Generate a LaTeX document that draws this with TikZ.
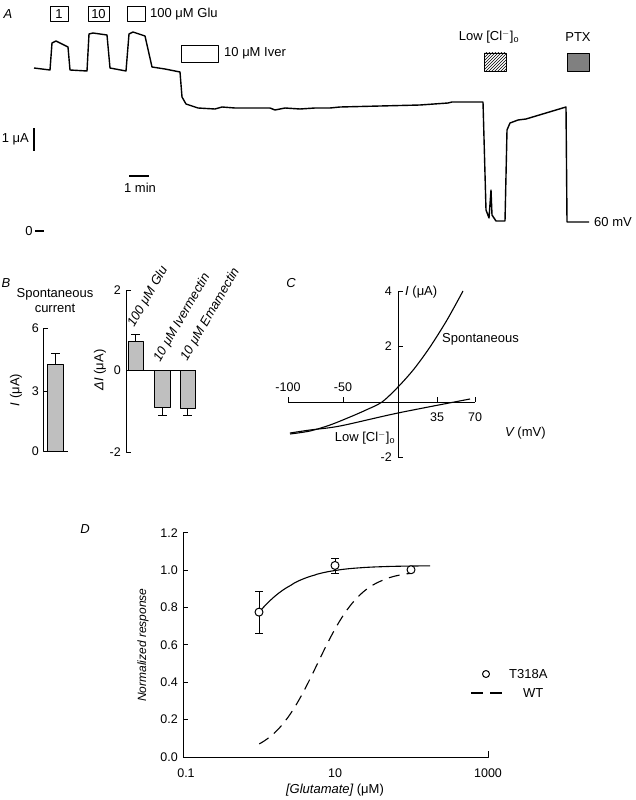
\documentclass[tikz,border=0pt]{standalone}
\usepackage{fontspec}
\setmainfont{Liberation Sans}
\usetikzlibrary{patterns}
\begin{document}
\begin{tikzpicture}[x=1pt,y=-1pt,line join=round,
  every node/.style={font=\fontsize{13}{15}\selectfont,inner sep=0pt},
  trace/.style={line width=1.4pt},
  ax/.style={line width=1pt},
  bar/.style={draw,line width=0.9pt,fill=black!25},
  lab/.style={font=\fontsize{13}{15}\selectfont\itshape},
  tick/.style={font=\fontsize{12.5}{14}\selectfont}]
\useasboundingbox (0,0) rectangle (635,800);
% ---------- Panel A ----------
\node[lab] (pA) at (8,14) {A};
\node[draw,line width=0.9pt,minimum width=18pt,minimum height=15pt] (b1) at (59,14) {1};
\node[draw,line width=0.9pt,minimum width=21pt,minimum height=15pt] (b10) at (98.5,14) {10};
\node[draw,line width=0.9pt,minimum width=18pt,minimum height=15pt] (b100) at (136,14) {};
\node[anchor=west] (l100) at (150,14) {100 μM Glu};
\node[draw,line width=0.9pt,minimum width=37pt,minimum height=17pt] (biv) at (199.5,53.5) {};
\node[anchor=west] (liv) at (224,53) {10 μM Iver};
\node (lcl) at (489,37) {Low [Cl$^{-}$]$_{\mathrm o}$};
\node[draw,line width=0.9pt,pattern=north east lines,minimum width=22pt,minimum height=18pt] (bcl) at (495,62) {};
\node (lptx) at (578,37) {PTX};
\node[draw,line width=0.9pt,fill=black!50,minimum width=22pt,minimum height=18pt] (bptx) at (578,62) {};
\draw[trace] (34,68) -- (50,70) -- (52,43) -- (56,41) -- (68,47) -- (70,70) -- (87,71)
 -- (89,34) -- (93,33) -- (107,35) -- (110,68) -- (126,71) -- (129,34) -- (133,32)
 -- (145,36) -- (152,67) -- (165,69) -- (180,72) -- (182,97) -- (186,104) -- (198,108)
 -- (215,109) -- (222,107) -- (235,108) -- (270,108) -- (275,110) -- (285,108) -- (300,109)
 -- (315,108) -- (330,108) -- (340,107) -- (380,106) -- (420,105) -- (448,103) -- (452,102)
 -- (483,102) -- (486,210) -- (489,218) -- (491,190) -- (492,215) -- (496,221) -- (505,221)
 -- (507,130) -- (510,123) -- (518,120) -- (526,119) -- (566,107) -- (567,222) -- (589,222);
\node[anchor=west] (l60) at (594,222) {60 mV};
\coordinate (sa1) at (34,128); \coordinate (sa2) at (34,151);
\draw[line width=1.2pt] (sa1) -- (sa2);
\node[anchor=east] (l1ua) at (29,139) {1 μA};
\coordinate (sm1) at (129,176); \coordinate (sm2) at (149,176);
\draw[line width=1.2pt] (sm1) -- (sm2);
\node (l1min) at (140,188) {1 min};
\node (l0) at (29,231) {0};
\coordinate (z1) at (35,231); \coordinate (z2) at (44,231);
\draw[line width=1.2pt] (z1) -- (z2);
% ---------- Panel B ----------
\node[lab] (pB) at (6,283) {B};
\node[align=center] (lsp) at (55,301) {Spontaneous\\current};
\draw[ax] (48,328) -- (43,328) -- (43,451) -- (68,451);
\draw[ax] (43,391) -- (48,391);
\node[tick,anchor=east] (t6) at (39,328) {6};
\node[tick,anchor=east] (t3) at (39,391) {3};
\node[tick,anchor=east] (t0) at (39,451) {0};
\node[rotate=90] (ylI) at (16,390) {\itshape I\upshape\ (μA)};
\draw[bar] (47,451) rectangle (63,364);
\draw[line width=0.9pt] (55,364) -- (55,353) (51,353) -- (60,353);
\draw[ax] (131,290) -- (126,290) -- (126,452) -- (131,452);
\draw[ax] (126,370) -- (196,370);
\node[tick,anchor=east] (u2) at (121,290) {2};
\node[tick,anchor=east] (u0) at (121,370) {0};
\node[tick,anchor=east] (um2) at (121,452) {-2};
\node[rotate=90] (ylD) at (100,370) {\itshape ΔI\upshape\ (μA)};
\draw[bar] (128,370) rectangle (143,341);
\draw[line width=0.9pt] (135,341) -- (135,334) (131,334) -- (140,334);
\draw[bar] (154,370) rectangle (170,407);
\draw[line width=0.9pt] (162,407) -- (162,415) (158,415) -- (167,415);
\draw[bar] (180,370) rectangle (195,408);
\draw[line width=0.9pt] (187,408) -- (187,415) (183,415) -- (192,415);
\node[lab,rotate=60,anchor=west] (rg) at (131,326) {100 μM Glu};
\node[lab,rotate=60,anchor=west] (ri) at (157,361) {10 μM Ivermectin};
\node[lab,rotate=60,anchor=west] (re) at (184,360) {10 μM Emamectin};
% ---------- Panel C ----------
\node[lab] (pC) at (291,283) {C};
\draw[ax] (398,291) -- (398,457);
\foreach \yy in {291,346,457} \draw[ax] (398,\yy) -- (403,\yy);
\draw[ax] (288,402) -- (475,402);
\foreach \xx in {288,343,437,475} \draw[ax] (\xx,397) -- (\xx,402);
\node[tick,anchor=east] (c4) at (392,291) {4};
\node[tick,anchor=east] (c2) at (392,346) {2};
\node[tick,anchor=east] (cm2) at (392,457) {-2};
\node[tick] (cm100) at (288,387) {-100};
\node[tick] (cm50) at (343,387) {-50};
\node[tick] (c35) at (437,417) {35};
\node[tick] (c70) at (475,417) {70};
\node[anchor=west] (cI) at (405,292) {\itshape I\upshape\ (μA)};
\node[anchor=west] (cV) at (505,433) {\itshape V\upshape\ (mV)};
\node[anchor=west] (csp) at (442,339) {Spontaneous};
\node (ccl) at (365,438) {Low [Cl$^{-}$]$_{\mathrm o}$};
\draw[line width=1.1pt] plot[smooth] coordinates {(290,434) (310,431) (330,425) (350,417) (366,410) (382,402) (398,387) (414,369) (430,347) (447,320) (463,291)};
\draw[line width=1.1pt] plot[smooth] coordinates {(290,433) (310,430) (340,426) (398,413) (470,399)};
% ---------- Panel D ----------
\node[lab] (pD) at (85,529) {D};
\draw[ax] (183,533) -- (183,757) -- (488,757) -- (488,751);
\foreach \v/\t in {0/0.0,0.2/0.2,0.4/0.4,0.6/0.6,0.8/0.8,1.0/1.0,1.2/1.2} {
  \draw[ax] (183,{757-186.7*\v}) -- (188,{757-186.7*\v});
  \node[tick,anchor=east] at (178,{757-186.7*\v}) {\t};
}
\node[tick] (x01) at (186,773) {0.1};
\node[tick] (x10) at (335,773) {10};
\node[tick] (x1000) at (488,773) {1000};
\node (xl) at (335,790) {\itshape [Glutamate]\upshape\ (μM)};
\node[rotate=90,font=\fontsize{12}{14}\selectfont\itshape] (yl) at (143,645) {Normalized response};
\draw[line width=1.1pt,domain=0:2.24,samples=60,smooth] plot ({259.25+76.25*\x},{757-186.7*1.025/(1+pow(0.355/pow(10,\x),1.1))});
\draw[line width=1.1pt,dash pattern=on 11pt off 7pt,domain=0:2,samples=60,smooth] plot ({259.25+76.25*\x},{757-186.7/(1+pow(5.8/pow(10,\x),1.47))});
\draw[line width=1pt] (259,{757-186.7*0.66}) -- (259,{757-186.7*0.885}) (255,{757-186.7*0.66}) -- (263,{757-186.7*0.66}) (255,{757-186.7*0.885}) -- (263,{757-186.7*0.885});
\draw[line width=1pt] (335,{757-186.7*0.985}) -- (335,{757-186.7*1.065}) (331,{757-186.7*0.985}) -- (339,{757-186.7*0.985}) (331,{757-186.7*1.065}) -- (339,{757-186.7*1.065});
\node[draw,circle,line width=1pt,fill=white,minimum size=8pt] (p1) at (259,{757-186.7*0.776}) {};
\node[draw,circle,line width=1pt,fill=white,minimum size=8pt] (p2) at (335,{757-186.7*1.026}) {};
\node[draw,circle,line width=1pt,fill=white,minimum size=8pt] (p3) at (411,{757-186.7*1.003}) {};
\node[draw,circle,line width=1pt,minimum size=7pt] (lgc) at (486,674) {};
\node[anchor=west] (lgt) at (509,674) {T318A};
\coordinate (lg1) at (471,693); \coordinate (lg2) at (506,693);
\draw[line width=1.1pt,dash pattern=on 12pt off 7pt] (lg1) -- (lg2);
\node[anchor=west] (lgw) at (523,693) {WT};
\end{tikzpicture}
\end{document}
